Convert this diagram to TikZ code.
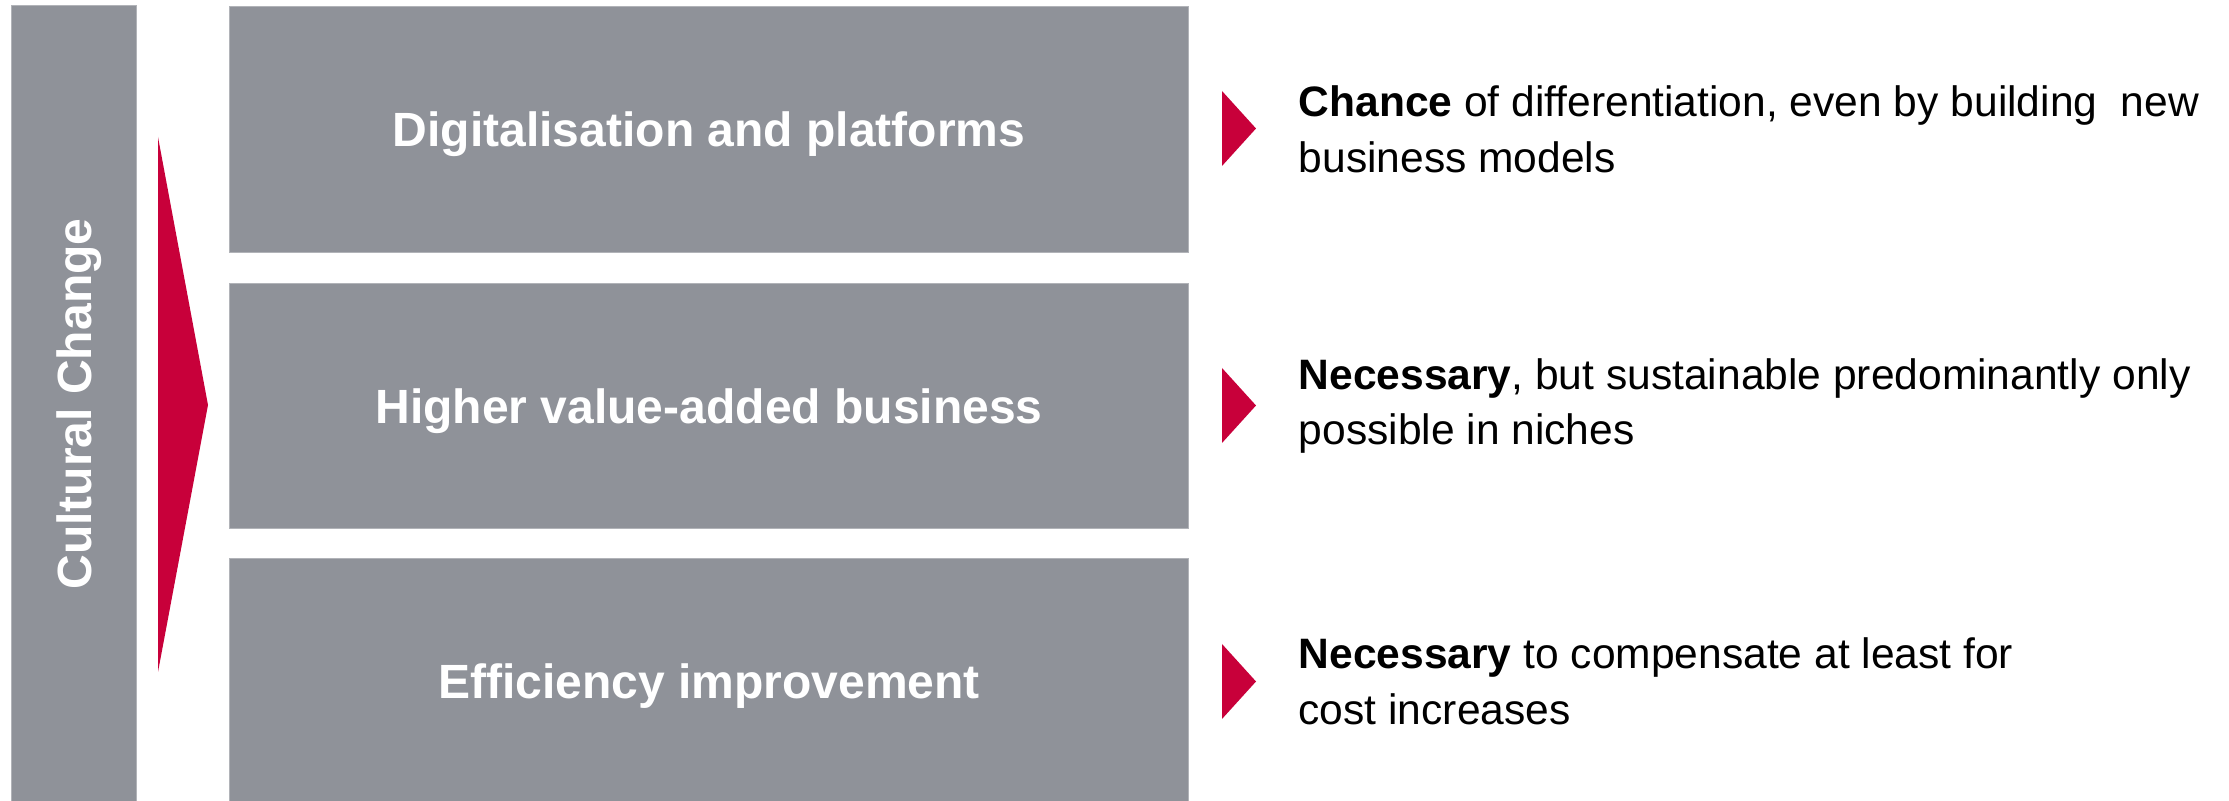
\documentclass[tikz,border=0pt]{standalone}
\usepackage{fontspec}
\setmainfont{Liberation Sans}
\usetikzlibrary{positioning}

\definecolor{slate}{RGB}{143,146,153}
\definecolor{crimson}{RGB}{200,0,58}

\begin{document}
\begin{tikzpicture}[
  x=0.01cm, y=-0.01cm,
  block/.style={fill=slate, draw=slate!70, line width=0.3pt, text=white, font=\fontsize{13.66}{16}\selectfont\bfseries, minimum width=9.58cm, minimum height=2.45cm, inner sep=0pt, text height=12.5pt, text depth=2.6pt},
  band/.style={block, rotate=90, minimum width=7.96cm, minimum height=1.24cm},
  note/.style={anchor=west, inner sep=0pt, align=left, font=\fontsize{12.1}{15.8}\selectfont},
  wedge/.style={fill=crimson}
]
\useasboundingbox (0,0) rectangle (2229,801);

%% ============ Left band and the big wedge ============
\node[band] (culture) at (74,404) {Cultural Change};
\fill[wedge] (158,137) -- (208,405) -- (158,672) -- cycle;

%% ============ Three grey blocks ============
\node[block] (digital)   at (709,129.5) {Digitalisation and platforms};
\node[block] (valueadd)  at (709,406)   {Higher value-added business};
\node[block] (efficient) at (709,681.5) {Efficiency improvement};

%% ============ Small pointers and remarks ============
\fill[wedge] (1222,91)  -- (1256,128.5) -- (1222,166) -- cycle;
\fill[wedge] (1222,368) -- (1256,405.5) -- (1222,443) -- cycle;
\fill[wedge] (1222,644) -- (1256,681.5) -- (1222,719) -- cycle;

\node[note] (chance)  at (1298,129.5) {\textbf{Chance} of differentiation, even by building\ \ new\\business models};
\node[note] (niches)  at (1298,406)   {\textbf{Necessary}, but sustainable predominantly only\\possible in niches};
\node[note] (costs)   at (1298,681.5) {\textbf{Necessary} to compensate at least for\\cost increases};

\end{tikzpicture}
\end{document}
